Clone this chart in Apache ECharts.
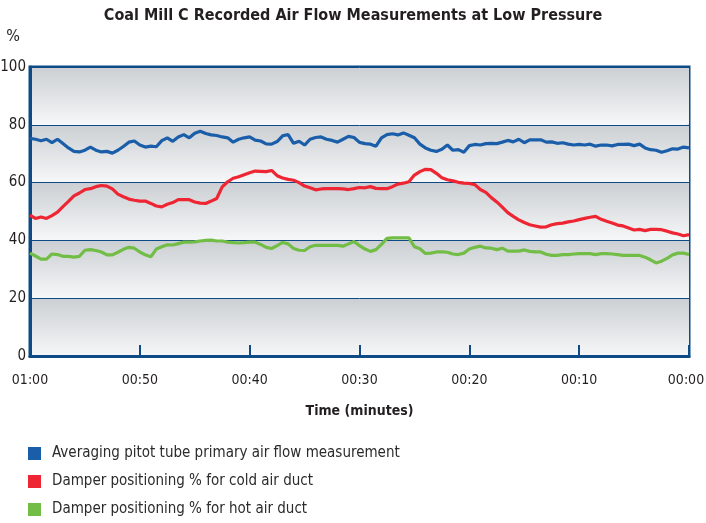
<!DOCTYPE html>
<html>
<head>
<meta charset="utf-8">
<script src="https://cdn.jsdelivr.net/npm/echarts@6/dist/echarts.min.js"></script>
<style>
  html, body { margin: 0; padding: 0; background: #fff; }
  #chart { width: 706px; height: 523px; }
</style>
</head>
<body>
<div id="chart"></div>
<script>
// minutes left on the clock, read every half minute from 01:00 down to 00:00
const minutesLeft = [
  60, 59.5, 59, 58.5, 58, 57.5, 57, 56.5, 56, 55.5, 55, 54.5, 54, 53.5, 53, 52.5, 52, 51.5, 51, 50.5,
  50, 49.5, 49, 48.5, 48, 47.5, 47, 46.5, 46, 45.5, 45, 44.5, 44, 43.5, 43, 42.5, 42, 41.5, 41, 40.5,
  40, 39.5, 39, 38.5, 38, 37.5, 37, 36.5, 36, 35.5, 35, 34.5, 34, 33.5, 33, 32.5, 32, 31.5, 31, 30.5,
  30, 29.5, 29, 28.5, 28, 27.5, 27, 26.5, 26, 25.5, 25, 24.5, 24, 23.5, 23, 22.5, 22, 21.5, 21, 20.5,
  20, 19.5, 19, 18.5, 18, 17.5, 17, 16.5, 16, 15.5, 15, 14.5, 14, 13.5, 13, 12.5, 12, 11.5, 11, 10.5,
  10, 9.5, 9, 8.5, 8, 7.5, 7, 6.5, 6, 5.5, 5, 4.5, 4, 3.5, 3, 2.5, 2, 1.5, 1, 0.5, 0
];

const pitotFlow = [
  75.3, 75.0, 74.5, 75.0, 73.8, 75.0, 73.5, 72.0, 70.8, 70.6, 71.2, 72.3, 71.2, 70.6, 70.8, 70.2, 71.2, 72.5, 74.0, 74.4,
  73.0, 72.3, 72.6, 72.4, 74.5, 75.5, 74.3, 75.8, 76.6, 75.5, 77.1, 77.8, 77.0, 76.5, 76.3, 75.8, 75.5, 74.0, 75.0, 75.5,
  75.8, 74.7, 74.4, 73.4, 73.3, 74.2, 76.2, 76.6, 73.6, 74.3, 73.0, 75.0, 75.6, 75.8, 75.0, 74.6, 74.0, 75.0, 76.0, 75.6,
  73.9, 73.5, 73.3, 72.6, 75.5, 76.6, 76.9, 76.5, 77.2, 76.4, 75.5, 73.3, 72.0, 71.2, 70.8, 71.5, 73.0, 71.2, 71.4, 70.5,
  72.8, 73.2, 73.0, 73.5, 73.6, 73.5, 74.0, 74.6, 74.1, 75.0, 73.8, 74.8, 74.8, 74.8, 74.0, 74.1, 73.6, 73.8, 73.3, 73.0,
  73.2, 73.0, 73.3, 72.6, 73.0, 73.0, 72.7, 73.2, 73.2, 73.3, 72.8, 73.3, 72.0, 71.4, 71.2, 70.5, 71.0, 71.7, 71.6, 72.3, 72.0
];

const coldDamper = [
  48.7, 47.6, 48.1, 47.6, 48.6, 49.8, 51.7, 53.5, 55.4, 56.4, 57.6, 57.9, 58.6, 59.0, 58.8, 57.8, 56.0, 55.1, 54.3, 53.9,
  53.6, 53.6, 52.8, 51.9, 51.6, 52.5, 53.1, 54.1, 54.1, 54.1, 53.3, 52.9, 52.8, 53.6, 54.5, 58.5, 60.3, 61.5, 62.0, 62.7,
  63.4, 64.0, 63.9, 63.8, 64.2, 62.4, 61.6, 61.1, 60.8, 60.0, 58.8, 58.2, 57.5, 57.8, 57.9, 57.9, 57.9, 57.8, 57.6, 57.9,
  58.3, 58.2, 58.6, 58.0, 57.9, 57.9, 58.6, 59.5, 59.8, 60.3, 62.6, 63.8, 64.6, 64.5, 63.2, 61.7, 61.0, 60.6, 60.1, 59.8,
  59.7, 59.3, 57.6, 56.6, 54.8, 53.3, 51.5, 49.6, 48.3, 47.1, 46.2, 45.4, 45.0, 44.6, 44.7, 45.4, 45.8, 46.0, 46.4, 46.7,
  47.2, 47.6, 48.0, 48.3, 47.3, 46.6, 46.0, 45.3, 45.0, 44.3, 43.6, 43.8, 43.4, 43.8, 43.8, 43.7, 43.2, 42.6, 42.2, 41.6, 42.0
];

const hotDamper = [
  35.6, 34.6, 33.5, 33.5, 35.3, 35.1, 34.5, 34.5, 34.2, 34.5, 36.6, 36.8, 36.5, 36.0, 35.0, 35.0, 35.9, 36.9, 37.6, 37.3,
  36.0, 35.0, 34.3, 37.0, 37.8, 38.5, 38.4, 38.9, 39.4, 39.4, 39.5, 39.8, 40.0, 40.1, 39.8, 39.8, 39.4, 39.2, 39.1, 39.2,
  39.4, 39.4, 38.6, 37.6, 37.2, 38.2, 39.3, 38.8, 37.2, 36.6, 36.5, 37.8, 38.3, 38.3, 38.3, 38.3, 38.3, 38.0, 38.8, 39.6,
  38.2, 37.0, 36.2, 36.8, 38.6, 40.7, 40.9, 40.9, 40.9, 40.9, 37.8, 37.1, 35.5, 35.6, 36.0, 36.0, 35.9, 35.3, 35.1, 35.6,
  37.0, 37.6, 38.0, 37.4, 37.3, 36.8, 37.3, 36.3, 36.3, 36.3, 36.7, 36.2, 36.0, 36.0, 35.2, 34.8, 34.8, 35.1, 35.1, 35.3,
  35.4, 35.4, 35.4, 35.1, 35.4, 35.4, 35.3, 35.1, 34.8, 34.8, 34.8, 34.8, 34.2, 33.3, 32.2, 32.8, 33.8, 35.0, 35.6, 35.6, 35.1
];

const seriesNames = [
  "Averaging pitot tube primary air flow measurement",
  "Damper positioning % for cold air duct",
  "Damper positioning % for hot air duct",
];

const FONT = '"DejaVu Sans Condensed", "Liberation Sans Narrow", "Roboto", sans-serif';
const NAVY = "#0d4a86";

const pad2 = (n) => (n < 10 ? "0" + n : "" + n);
// the last label sits on the right edge, nudge it in a little so it is not cut
const timeLabel = (m) => {
  if (m >= 60) return "01:00";
  if (m === 0) return "{edge|00:00}";
  return "00:" + pad2(m);
};

// each 20% band fades from grey at the top to near white at the bottom
const band = {
  type: "linear", x: 0, y: 0, x2: 0, y2: 1,
  colorStops: [
    { offset: 0, color: "#cbcfd3" },
    { offset: 1, color: "#f6f7f8" },
  ],
};

const makeLine = (name, values, color) => ({
  name: name,
  type: "line",
  data: minutesLeft.map((m, i) => [m, values[i]]),
  symbol: "none",
  lineStyle: { color: color, width: 3.2 },
  itemStyle: { color: color },
});

const myChart = echarts.init(document.getElementById("chart"));

myChart.setOption({
  animation: false,
  title: {
    text: "Coal Mill C Recorded Air Flow Measurements at Low Pressure",
    left: "center",
    top: 3,
    textStyle: { fontFamily: FONT, fontWeight: "bold", fontSize: 16, color: "#231f20" },
  },
  grid: {
    left: 30,
    right: 17,
    top: 67,
    bottom: 167,
    outerBoundsMode: "none",
    containLabel: false,
    show: true,
    borderColor: NAVY,
    borderWidth: 3,
  },
  legend: {
    orient: "vertical",
    left: 28,
    top: 446,
    height: 90,
    padding: 0,
    icon: "rect",
    itemWidth: 13,
    itemHeight: 13,
    itemGap: 13,
    data: seriesNames,
    textStyle: { fontFamily: FONT, fontSize: 15, color: "#2b2b2b", padding: [0, 0, 0, 6] },
  },
  xAxis: {
    type: "value",
    inverse: true,
    min: 0,
    max: 60,
    interval: 10,
    name: "Time (minutes)",
    nameLocation: "middle",
    nameGap: 48,
    nameTextStyle: { fontFamily: FONT, fontWeight: "bold", fontSize: 14, color: "#231f20" },
    axisLine: { show: true, onZero: false, lineStyle: { color: NAVY, width: 3 } },
    axisTick: { show: true, inside: true, length: 11, lineStyle: { color: NAVY, width: 2 } },
    axisLabel: {
      margin: 17,
      fontFamily: FONT,
      fontSize: 14,
      color: "#231f20",
      formatter: timeLabel,
      rich: {
        edge: { fontFamily: FONT, fontSize: 14, color: "#231f20", padding: [0, 6, 0, 0] },
      },
    },
    splitLine: { show: false },
  },
  yAxis: {
    type: "value",
    min: 0,
    max: 100,
    interval: 20,
    name: "%",
    nameLocation: "end",
    nameGap: 22,
    nameTextStyle: { fontFamily: FONT, fontSize: 16, color: "#231f20", align: "right", padding: [0, 10, 0, 0] },
    axisLine: { show: true, onZero: false, lineStyle: { color: NAVY, width: 3 } },
    axisTick: { show: false },
    axisLabel: { margin: 4, fontFamily: FONT, fontSize: 15, color: "#231f20" },
    splitLine: { show: true, lineStyle: { color: NAVY, width: 1 } },
    splitArea: { show: true, areaStyle: { color: [band] } },
  },
  series: [
    makeLine(seriesNames[0], pitotFlow, "#1a5ea9"),
    makeLine(seriesNames[1], coldDamper, "#ee2532"),
    makeLine(seriesNames[2], hotDamper, "#72bd45"),
  ],
});
</script>
</body>
</html>
